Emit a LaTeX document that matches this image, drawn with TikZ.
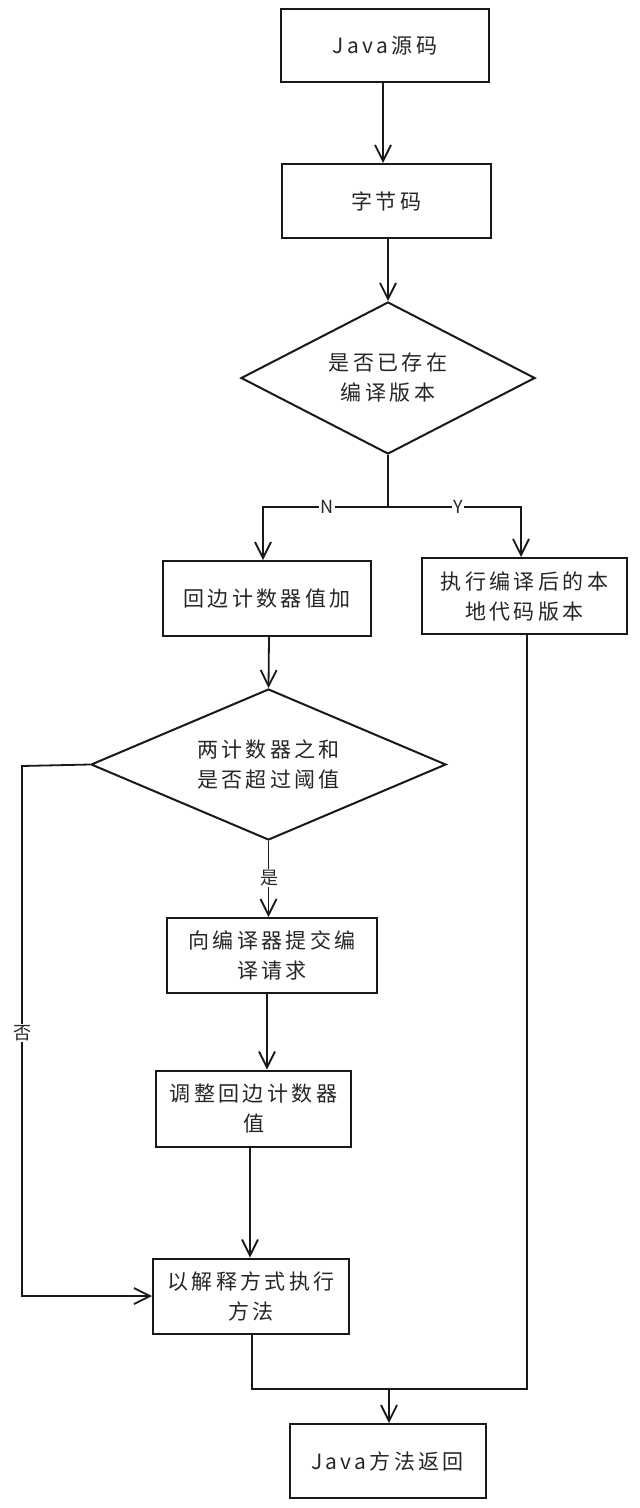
\documentclass[tikz,border=0pt]{standalone}
\usepackage{fontspec}
\setmainfont{Noto Sans CJK SC}[LetterSpace=16]
\usetikzlibrary{shapes.geometric,arrows.meta}
\begin{document}
\begin{tikzpicture}[x=1pt,y=-1pt,
  every node/.style={font=\fontsize{21}{30}\selectfont, text=black!85},
  box/.style={draw=black!90, line width=2pt, rectangle, inner sep=0pt, align=center},
  dia/.style={draw=black!90, line width=2pt, diamond, aspect=2, inner sep=0pt, align=center},
  conn/.style={draw=black!90, line width=1.8pt},
  arr/.style={conn, -{Straight Barb[length=16pt,width=16pt,line width=1.8pt]}},
  lab/.style={fill=white, inner sep=1pt, font=\fontsize{18}{20}\selectfont}
]
\useasboundingbox[fill=white] (0,0) rectangle (640,1508);

\node[box, minimum width=208, minimum height=73] (src) at (385,45.5) {Java源码};
\node[box, minimum width=209, minimum height=74] (bc) at (386.5,201) {字节码};
\node[dia, minimum width=294, minimum height=152] (d1) at (388,378) {是否已存在\\编译版本};
\node[box, minimum width=208, minimum height=75] (inc) at (267,598.5) {回边计数器值加};
\node[box, minimum width=205, minimum height=76] (nat) at (524.5,596) {执行编译后的本\\地代码版本};
\node[dia, minimum width=355, minimum height=151] (d2) at (268.5,764.5) {两计数器之和\\是否超过阈值};
\node[box, minimum width=210, minimum height=75] (sub) at (272,955.5) {向编译器提交编\\译请求};
\node[box, minimum width=195, minimum height=76] (adj) at (253.5,1108.5) {调整回边计数器\\值};
\node[box, minimum width=196, minimum height=75] (intp) at (251,1296) {以解释方式执行\\方法};
\node[box, minimum width=196, minimum height=74] (ret) at (387.5,1461) {Java方法返回};

\coordinate (fork) at (388,507);
\coordinate (nl) at (263,507);
\coordinate (yr) at (521,507);
\coordinate (nol) at (22,766);
\coordinate (nob) at (22,1296);
\coordinate (j1) at (252,1389);
\coordinate (j2) at (527,1389);
\coordinate (jm) at (389,1389);

\draw[arr] (src.south -| 383,0) -- (bc.north -| 383,0);
\draw[arr] (bc.south -| d1.north) -- (d1.north);
\draw[conn] (d1.south) -- (fork);
\draw[arr] (fork) -- (nl) -- (inc.north -| nl);
\node[lab] (nlab) at (327,507) {N};
\draw[arr] (fork) -- (yr) -- (nat.north -| yr);
\node[lab] (ylab) at (458,507) {Y};
\draw[arr] (inc.south -| 269,0) -- (d2.north);
\draw[arr] (d2.south) -- (sub.north -| d2.south);
\node[lab] (slab) at (269,878) {是};
\draw[arr] (sub.south -| 267,0) -- (adj.north -| 267,0);
\draw[arr] (adj.south -| 250,0) -- (intp.north -| 250,0);
\draw[arr] (d2.west) -- (nol) -- (nob) -- (intp.west);
\node[lab] (flab) at (22,1033) {否};
\draw[conn] (intp.south -| j1) -- (j1) -- (jm);
\draw[conn] (nat.south -| j2) -- (j2) -- (jm);
\draw[arr] (jm) -- (ret.north -| jm);
\end{tikzpicture}
\end{document}
